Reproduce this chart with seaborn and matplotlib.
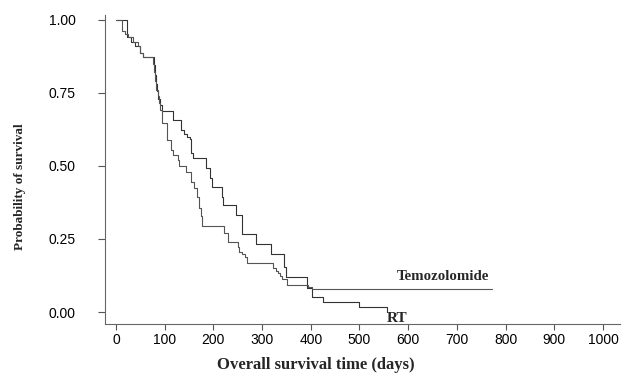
import matplotlib
matplotlib.use("Agg")
import matplotlib.pyplot as plt
import seaborn as sns
import pandas as pd

# Kaplan-Meier step points (day of drop, survival after drop)
rt_days = [0, 23, 30, 38, 49, 55, 78, 80, 82, 84, 86, 90, 94, 117, 133, 140, 146,
           152, 155, 158, 184, 194, 197, 218, 220, 246, 258, 287, 318, 346, 349,
           393, 402, 426, 498, 556]
rt_surv = [1.0, 0.942, 0.925, 0.909, 0.887, 0.873, 0.845, 0.81, 0.78, 0.755, 0.73,
           0.71, 0.688, 0.658, 0.623, 0.61, 0.60, 0.592, 0.545, 0.527, 0.492, 0.459,
           0.428, 0.394, 0.366, 0.332, 0.267, 0.233, 0.199, 0.154, 0.119, 0.082,
           0.051, 0.035, 0.016, 0.0]

tem_days = [0, 12, 18, 25, 35, 45, 49, 55, 76, 79, 81, 83, 86, 89, 91, 94, 104, 113,
            117, 127, 129, 144, 155, 160, 166, 170, 174, 176, 222, 229, 250, 253,
            259, 265, 269, 323, 329, 333, 337, 341, 351, 394, 402, 772]
tem_surv = [1.0, 0.963, 0.952, 0.942, 0.925, 0.909, 0.887, 0.873, 0.85, 0.82, 0.79,
            0.76, 0.74, 0.715, 0.69, 0.646, 0.589, 0.555, 0.538, 0.521, 0.5, 0.48,
            0.445, 0.425, 0.394, 0.356, 0.33, 0.295, 0.27, 0.24, 0.223, 0.205, 0.197,
            0.188, 0.168, 0.151, 0.142, 0.134, 0.123, 0.113, 0.094, 0.086, 0.078,
            0.078]

x_ticks = [0, 100, 200, 300, 400, 500, 600, 700, 800, 900, 1000]
y_ticks = [0.0, 0.25, 0.5, 0.75, 1.0]
y_tick_labels = ["0.00", "0.25", "0.50", "0.75", "1.00"]

sns.set_style("ticks")
plt.rcParams["font.family"] = ["Liberation Sans", "DejaVu Sans"]

fig = plt.figure(figsize=(6.25, 3.81), dpi=100)
ax = fig.add_axes([0.168, 0.1496, 0.824, 0.8114])

rt = pd.DataFrame({"day": rt_days, "surv": rt_surv})
tem = pd.DataFrame({"day": tem_days, "surv": tem_surv})

sns.lineplot(data=rt, x="day", y="surv", ax=ax, drawstyle="steps-post",
             estimator=None, color="#333333", lw=0.8)
sns.lineplot(data=tem, x="day", y="surv", ax=ax, drawstyle="steps-post",
             estimator=None, color="#555555", lw=0.8)

ax.set_xlim(-22.6, 1035)
ax.set_ylim(-0.041, 1.017)
ax.set_xticks(x_ticks)
ax.set_yticks(y_ticks)
ax.set_yticklabels(y_tick_labels)
ax.set_xlabel("")
ax.set_ylabel("")
ax.tick_params(axis="y", length=5, width=0.8, pad=16, labelsize=10, colors="#555555", labelcolor="black")
ax.tick_params(axis="x", length=4.5, width=0.8, pad=2, labelsize=10, colors="#555555", labelcolor="black")
sns.despine(ax=ax)
for side in ["left", "bottom"]:
    ax.spines[side].set_color("#666666")
    ax.spines[side].set_linewidth(0.8)

serif = ["Liberation Serif", "DejaVu Serif"]
ax.text(577, 0.123, "Temozolomide", family=serif, fontweight="bold", fontsize=10.7,
        ha="left", va="center")
ax.text(556, -0.021, "RT", family=serif, fontweight="bold", fontsize=11,
        ha="left", va="center")

fig.text(316 / 625, 1 - 365 / 381, "Overall survival time (days)", family=serif,
         fontweight="bold", fontsize=12, ha="center", va="center")
fig.text(20 / 625, 1 - 187 / 381, "Probability of survival", family=serif,
         fontweight="bold", fontsize=9.5, rotation=90, ha="center", va="center")

fig.savefig("out.png", dpi=100, facecolor="white")
